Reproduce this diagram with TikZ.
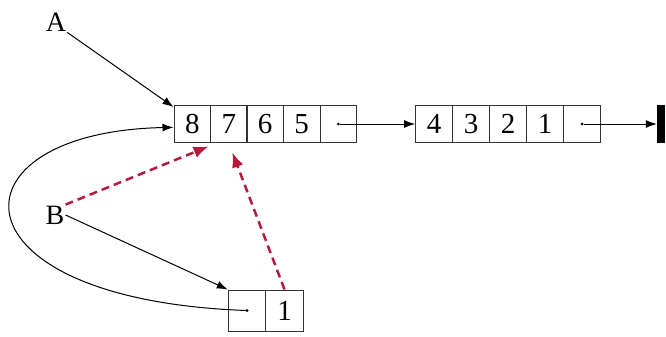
\documentclass[tikz,border=0pt]{standalone}
\usepackage{fontspec}
\setmainfont{Liberation Serif}
\usetikzlibrary{arrows.meta}
\definecolor{dred}{RGB}{185,25,60}
\begin{document}
\begin{tikzpicture}[x=1pt,y=-1pt,
  cell/.style={draw=black!80,line width=1pt,minimum width=36.8pt,minimum height=37pt,inner sep=0pt,font=\fontsize{29}{30}\selectfont},
  scell/.style={cell,minimum width=37.5pt,minimum height=41pt},
  lbl/.style={font=\fontsize{28}{30}\selectfont,inner sep=1pt},
  dotc/.style={circle,fill=black,inner sep=0pt,minimum size=3pt},
  arr/.style={line width=1pt,-{Latex[length=11pt,width=8pt]}},
  rarr/.style={dred,line width=2.5pt,dash pattern=on 8pt off 5pt,-{Latex[length=15pt,width=12pt]}}]
\useasboundingbox (0,0) rectangle (666,337);
% first block
\node[cell] (c8) at (192.4,124) {8};
\node[cell] (c7) at (228.8,124) {7};
\node[cell] (c6) at (265.2,124) {6};
\node[cell] (c5) at (301.6,124) {5};
\node[cell] (p1) at (338.4,124) {};
\node[dotc] (d1) at (p1.center) {};
% second block
\node[cell] (c4) at (434,124) {4};
\node[cell] (c3) at (471,124) {3};
\node[cell] (c2) at (508,124) {2};
\node[cell] (c1) at (545,124) {1};
\node[cell] (p2) at (582,124) {};
\node[dotc] (d2) at (p2.center) {};
% terminator
\node[fill=black,minimum width=8pt,minimum height=38pt,inner sep=0pt] (bar) at (661,124) {};
% small block
\node[scell] (sp) at (247,310.5) {};
\node[scell] (s1) at (284.5,310.5) {1};
\node[dotc] (sd) at (sp.center) {};
% labels
\node[lbl] (A) at (56,22) {A};
\node[lbl] (B) at (55,215) {B};
% connectors
\draw[arr] (d1) -- (c4.west);
\draw[arr] (d2) -- (bar.west);
\draw[arr] (A.south east) -- (c8.138);
\draw[arr] (B.east) -- (sp.north west);
\draw[arr] (sd.center) .. controls (-55,300) and (-55,132) .. (c8.190);
\draw[rarr,shorten >=9pt] (B.north east) -- (c7.238);
\draw[rarr,shorten >=10pt] (s1.north) -- (c7.south);
\end{tikzpicture}
\end{document}
